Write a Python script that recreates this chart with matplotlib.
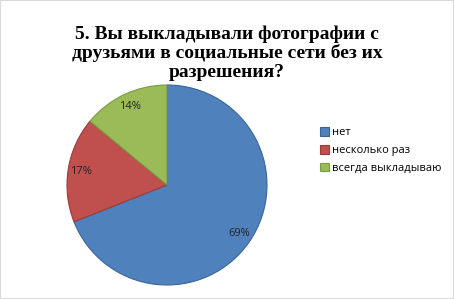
import matplotlib.pyplot as plt
from matplotlib.patches import Rectangle

title = "5. Вы выкладывали фотографии с\nдрузьями в социальные сети без их\nразрешения?"
labels = ["нет", "несколько раз", "всегда выкладываю"]
values = [69, 17, 14]
colors = ["#4f81bd", "#c0504d", "#9bbb59"]
edges = ["#3a6599", "#9c3b39", "#7a9a42"]

W, H = 454, 299
fig = plt.figure(figsize=(W / 100, H / 100), dpi=100)
fig.patches.append(Rectangle((0, 0), 1, 1, transform=fig.transFigure,
                             fill=False, edgecolor="#d9d9d9", linewidth=1.5))

fig.text(227 / W, 1 - 53 / H, title, ha="center", va="center",
         family="Liberation Serif", fontweight="bold", fontsize=14,
         linespacing=1.12)

# pie: centre (167, 185) px, radius 100 px
ax = fig.add_axes([67 / W, (H - 285) / H, 200 / W, 200 / H])
wedges, texts, autotexts = ax.pie(values, colors=colors, startangle=90,
                                  counterclock=False, autopct="%d%%",
                                  pctdistance=0.87,
                                  textprops=dict(family="Open Sans",
                                                 fontsize=8, color="#222222"))
for w, e in zip(wedges, edges):
    w.set_edgecolor(e)
    w.set_linewidth(0.8)
ax.set_xlim(-1, 1)
ax.set_ylim(-1, 1)
ax.set_aspect("equal")

leg = fig.legend(wedges, labels, loc="upper left",
                 bbox_to_anchor=(316 / W, 1 - 123 / H), frameon=False,
                 prop=dict(family="Open Sans", size=8), handlelength=0.75,
                 handleheight=0.75, handletextpad=0.3, labelspacing=0.62,
                 borderaxespad=0)

fig.savefig("out.png", dpi=100)
